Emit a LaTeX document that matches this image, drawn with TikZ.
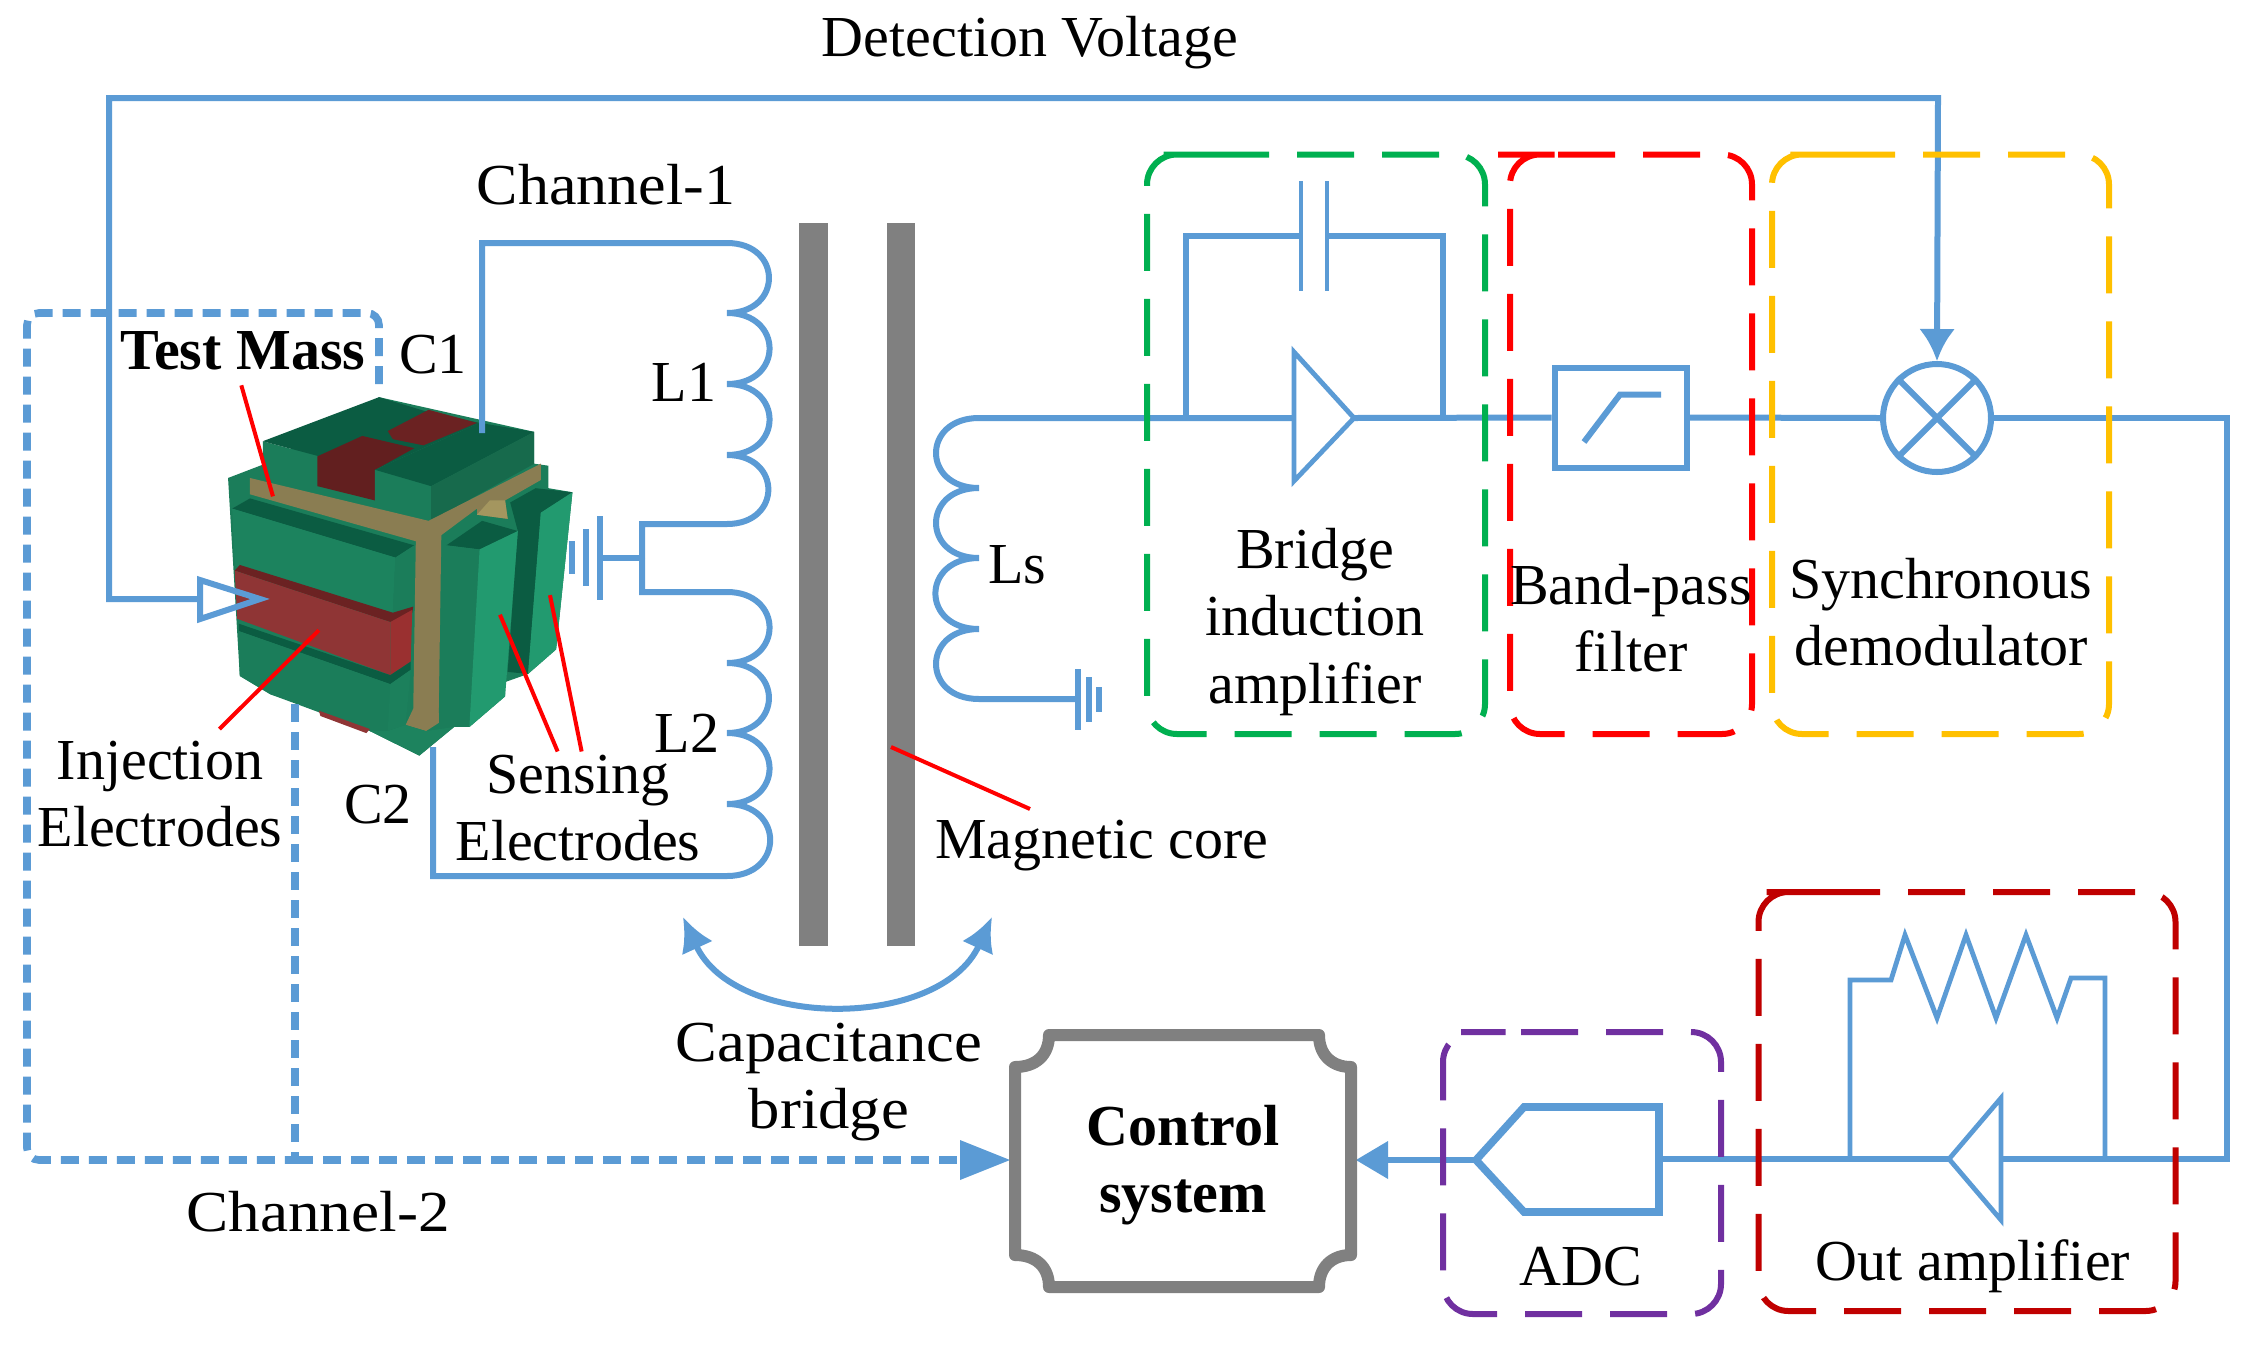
\documentclass[tikz,border=0pt]{standalone}
\usepackage{fontspec}
\usepackage{graphicx}
\setmainfont{Liberation Serif}
\usetikzlibrary{arrows.meta}
\definecolor{wire}{HTML}{5B9BD5}
\definecolor{gA}{HTML}{0B5C42}
\definecolor{gB}{HTML}{1B7D5A}
\definecolor{gC}{HTML}{229A6F}
\definecolor{rA}{HTML}{6B2222}
\definecolor{rB}{HTML}{8F3535}
\definecolor{auA}{HTML}{8A7D52}
\definecolor{auB}{HTML}{A4965F}
\tikzset{
  w/.style={draw=wire,line width=3pt,line join=miter},
  thin w/.style={draw=wire,line width=2.4pt},
  dotw/.style={draw=wire,line width=3.8pt,dash pattern=on 9pt off 5pt},
  box/.style={line width=3pt,dash pattern=on 28.5pt off 14pt,rounded corners=15pt},
  lead/.style={draw=red,line width=2pt},
  core/.style={fill=black!50,draw=none},
  lbl/.style={font=\fontsize{29}{33.8}\selectfont,align=center,inner sep=0pt,text=black},
  blbl/.style={font=\fontsize{29}{33.8}\selectfont\bfseries,align=center,inner sep=0pt,text=black},
  bumpR/.style={out=0,in=0,looseness=2.05},
  bumpL/.style={out=180,in=180,looseness=2.1},
  tip/.style={-{Latex[length=16pt,width=18pt]}},
}
\begin{document}
\begin{tikzpicture}[x=0.5pt,y=-0.5pt]
\useasboundingbox (0,0) rectangle (2253,1350);
\fill[white] (0,0) rectangle (2253,1350);

% named points
\coordinate (injA) at (200,599);
\coordinate (injTip) at (260,599);
\coordinate (c1) at (482,433);
\coordinate (c2) at (433,747);
\coordinate (gnd1) at (600,558);
\coordinate (mid) at (642,558);
\coordinate (ampIn) at (1294,418);
\coordinate (ampOut) at (1354,418);
\coordinate (lsTop) at (979,418);
\coordinate (gnd2) at (1078,699);
\coordinate (oaIn) at (2001,1159);
\coordinate (oaOut) at (1949,1159);
\coordinate (adcIn) at (1659,1159);
\coordinate (adcOut) at (1476,1160);
\coordinate (ctrlE) at (1356,1160);
\coordinate (ctrlW) at (1010,1160);
\coordinate (dotTop) at (379,384);
\coordinate (dotInner) at (295,704);
\coordinate (dotJoin) at (295,1160);
\coordinate (fbL) at (1186,418);
\coordinate (fbR) at (1443,418);

% cube, written in a local frame
\begin{scope}[shift={(0,280)},xscale=0.5102,yscale=0.4082]
\fill[gB] (447,485)--(520,450)--(743,287)--(1047,372)--(1047,450)--(1075,455)--(1075,510)--(1122,520)--(1090,905)--(1035,965)--(990,985)--(990,1020)--(920,1095)--(890,1095)--(822,1165)--(725,1105)--(530,1015)--(470,970)--cycle;
% top electrodes
\fill[gB] (515,395)--(620,430)--(620,505)--(515,465)--cycle;
\fill[gA] (515,395)--(743,287)--(830,320)--(940,350)--(735,465)--(620,430)--cycle;
\fill[rA] (760,370)--(840,318)--(935,350)--(830,405)--(770,390)--cycle;
\fill[rA!92!black] (622,432)--(710,382)--(812,412)--(735,465)--(735,540)--(622,505)--cycle;
\fill[gB] (735,465)--(845,505)--(845,590)--(735,540)--cycle;
\fill[gA] (735,465)--(830,412)--(940,350)--(1047,372)--(845,505)--cycle;
\fill[gB!85!black] (845,505)--(1047,372)--(1047,450)--(845,590)--cycle;
% gold frame
\fill[auA] (490,485)--(840,590)--(1060,450)--(1060,490)--(990,540)--(995,585)--(935,575)--(935,560)--(865,625)--(860,1050)--(860,1085)--(835,1105)--(795,1090)--(810,1050)--(815,640)--(490,525)--cycle;
\fill[auB] (935,575)--(960,540)--(990,540)--(995,585)--cycle;
% left face
\fill[gA] (455,560)--(490,535)--(812,650)--(775,680)--cycle;
\fill[gB!80!gC] (455,560)--(775,680)--(770,815)--(460,700)--cycle;
\fill[gB] (775,680)--(812,650)--(810,800)--(770,815)--cycle;
\fill[rA] (460,712)--(470,698)--(770,815)--(810,800)--(808,815)--(765,838)--cycle;
\fill[rB] (460,712)--(765,838)--(765,968)--(465,830)--cycle;
\fill[rB!90!red] (765,838)--(808,808)--(805,935)--(765,968)--cycle;
\fill[gA] (468,842)--(765,968)--(805,935)--(805,955)--(765,990)--(468,860)--cycle;
\fill[gB] (468,860)--(765,990)--(760,1105)--(530,1015)--(470,970)--cycle;
\fill[gB!90!gC] (765,990)--(805,955)--(795,1090)--(760,1105)--cycle;
\fill[rB] (625,1055)--(725,1100)--(718,1110)--(628,1068)--cycle;
\fill[gC!85!black] (725,1105)--(760,1105)--(795,1090)--(835,1105)--(890,1095)--(822,1165)--cycle;
% right electrodes
\fill[gA] (1000,545)--(1050,510)--(1122,520)--(1060,570)--(1035,965)--(995,960)--(1015,615)--cycle;
\fill[gC] (1060,570)--(1122,520)--(1090,905)--(1035,965)--cycle;
\fill[gA] (875,650)--(945,590)--(1015,615)--(940,660)--cycle;
\fill[gB] (875,650)--(940,660)--(920,1095)--(860,1060)--cycle;
\fill[gC] (940,660)--(1015,615)--(990,1020)--(920,1095)--cycle;
% leaders
\coordinate (tmA) at (473,258); \coordinate (tmB) at (535,530);
\coordinate (inA) at (430,1100); \coordinate (inB) at (625,858);
\coordinate (seA) at (1093,1155); \coordinate (seB) at (980,820);
\coordinate (sfA) at (1140,1155); \coordinate (sfB) at (1078,772);
\end{scope}
\draw[lead] (tmA)--(tmB);
\draw[lead] (inA)--(inB);
\draw[lead] (seA)--(seB);
\draw[lead] (sfA)--(sfB);

% detection voltage line
\node[circle,w,minimum size=54pt,inner sep=0pt] (mult) at (1937,418) {};
\draw[w] (mult.45)--(mult.225) (mult.135)--(mult.315);
\draw[w,tip] (injA) -- (109,599) -- (109,98) -- (1938,98) -- (mult.north);
\draw[w] (injA) -- ++(0,-19) -- (injTip) -- (200,619) -- cycle;

% dotted channel 2
\draw[dotw,rounded corners=6pt] (dotTop) -- (379,313) -- (27,313) -- (27,1160) -- (dotJoin);
\draw[dotw] (dotInner) -- (dotJoin);
\draw[dotw] (dotJoin) -- (965,1160);
\draw[fill=wire,draw=none] (ctrlW) -- (960,1140) -- (960,1180) -- cycle;

% channel 1 and coils
\draw[w] (c1) -- (482,243) -- (727,243)
  to[bumpR] (727,313) to[bumpR] (727,384) to[bumpR] (727,455) to[bumpR] (727,524) -- (642,524) -- (mid);
\draw[w] (c2) -- (433,876) -- (727,876)
  to[bumpR] (727,804) to[bumpR] (727,733) to[bumpR] (727,663) to[bumpR] (727,592) -- (642,592) -- (mid);
\draw[w] (mid) -- (gnd1);
\draw[w] (600,516)--(600,600) (586,529)--(586,586) (572,541)--(572,574);

% magnetic core
\fill[core] (799,223) rectangle (828,946);
\fill[core] (887,223) rectangle (915,946);
\draw[lead] (891,747) -- (1030,809);
\draw[w,{Latex[length=17pt,width=17pt]}-{Latex[length=17pt,width=17pt]}] (683,917) .. controls (735,1030) and (940,1030) .. (992,917);

% Ls
\draw[w] (gnd2) -- (979,699) to[bumpL] (979,629) to[bumpL] (979,558) to[bumpL] (979,488) to[bumpL] (lsTop) -- (ampIn);
\draw[w] (1078,669)--(1078,730) (1089,677)--(1089,722) (1099,687)--(1099,712);

% bridge amplifier
\draw[thin w] (ampIn) -- (1294,352) -- (ampOut) -- (1294,481) -- cycle;
\draw[w] (fbL) -- (1186,236) -- (1301,236);
\draw[w] (fbR) -- (1443,236) -- (1327,236);
\draw[thin w] (1301,181)--(1301,291) (1327,181)--(1327,291);

% filter
\node[w,draw,minimum width=66pt,minimum height=50pt,inner sep=0pt] (filter) at (1620.5,417.5) {};
\draw[w] (1584,442) -- (1620,394.5) -- (1661,394.5);
\draw[w] (ampOut) -- (filter.west);
\draw[w] (filter.east) -- (mult.west);

% output run
\draw[w] (mult.east) -- (2227,418) -- (2227,1159) -- (oaIn);
\draw[thin w] (oaIn) -- (2001,1098) -- (oaOut) -- (2001,1220) -- cycle;
\draw[w] (oaOut) -- (adcIn);
\draw[thin w] (1850,1159) -- (1850,980) -- (1891,980) -- (1905,935) -- (1937,1018) -- (1966,935) -- (1996,1018) -- (2026,935) -- (2057,1018) -- (2071,978) -- (2105,978) -- (2105,1159);
\draw[w,line width=3.8pt] (adcOut) -- (1524,1107) -- (1659,1107) -- (adcIn) -- (1659,1212) -- (1524,1212) -- cycle;
\draw[w] (adcOut) -- (1385,1160);
\fill[wire] (ctrlE) -- (1388,1141) -- (1388,1179) -- cycle;

% control shape
\draw[draw=black!50,line width=6pt,line join=round] (1049,1035) -- (1319,1035)
 .. controls (1319,1055) and (1332,1067) .. (1351,1067) -- (1351,1255)
 .. controls (1332,1255) and (1319,1267) .. (1319,1287) -- (1049,1287)
 .. controls (1049,1267) and (1036,1255) .. (1015,1255) -- (1015,1067)
 .. controls (1036,1067) and (1049,1055) .. cycle;

% dashed groups
\draw[box,draw={rgb,255:red,0;green,176;blue,80}] (1182,154.5) -| (1485,734) -| (1147,154.5) -- cycle;
\draw[box,draw={rgb,255:red,255;green,0;blue,0}] (1528,154.5) -| (1752,734) -| (1510,154.5) -- cycle;
\draw[box,draw={rgb,255:red,255;green,192;blue,0}] (1808,154.5) -| (2109,734) -| (1772,154.5) -- cycle;
\draw[box,draw={rgb,255:red,192;green,0;blue,0}] (1793,892) -| (2175.5,1311) -| (1758.5,892) -- cycle;
\draw[box,draw={rgb,255:red,112;green,48;blue,160}] (1491,1032) -| (1721,1314) -| (1443,1032) -- cycle;

% labels
\node[lbl] (tDet) at (1030,43) {Detection Voltage};
\node[lbl] (tCh1) at (606,185) {\scalebox{1.07}[1]{Channel-1}};
\node[blbl] (tTM) at (243,351) {Test Mass};
\node[lbl] (tC1) at (433,355) {C1};
\node[lbl] (tL1) at (684,382) {L1};
\node[lbl] (tLs) at (1017,565) {Ls};
\node[lbl] (tL2) at (687,733) {L2};
\node[lbl] (tBia) at (1315,622) {Bridge\\induction\\amplifier};
\node[lbl] (tBpf) at (1631,618) {Band-pass\\filter};
\node[lbl] (tSd) at (1941,612) {Synchronous\\demodulator};
\node[lbl] (tInj) at (160,794) {Injection\\Electrodes};
\node[lbl] (tSen) at (578,808) {Sensing\\Electrodes};
\node[lbl] (tC2) at (378,805) {C2};
\node[lbl] (tMag) at (1102,846) {Magnetic core};
\node[lbl] (tCap) at (829,1082) {\scalebox{1.08}[1]{Capacitance}\\\scalebox{1.08}[1]{bridge}};
\node[blbl] (ctrl) at (1183,1165) {Control\\system};
\node[lbl] (tCh2) at (318,1212) {\scalebox{1.09}[1]{Channel-2}};
\node[lbl] (tAdc) at (1581,1267) {ADC};
\node[lbl] (tOut) at (1973,1266) {Out amplifier};
\end{tikzpicture}
\end{document}
